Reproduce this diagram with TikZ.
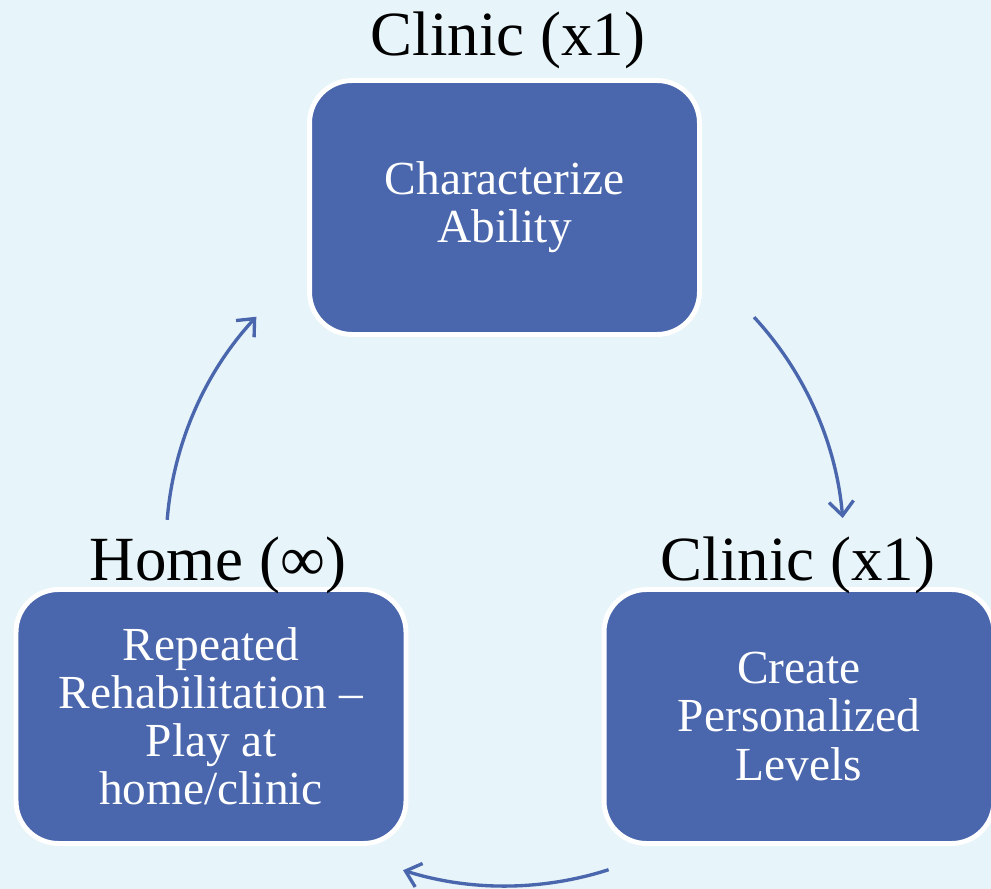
\documentclass[tikz,border=0pt]{standalone}
\usepackage{fontspec}
\setmainfont{Liberation Serif}
\usepackage{xcolor}
\usetikzlibrary{arrows.meta}
\definecolor{boxBlue}{HTML}{4A66AC}
\definecolor{paleSky}{HTML}{E7F4FA}

\begin{document}
\begin{tikzpicture}[x=0.02cm, y=0.02cm,
    stageBox/.style={rectangle, rounded corners=0.85cm, fill=boxBlue, draw=white, line width=2.8pt,
        minimum width=7.8cm, minimum height=5.08cm, inner sep=0pt,
        text=white, align=center, font=\fontsize{27}{27.4}\selectfont},
    tagLabel/.style={anchor=base, font=\fontsize{35.8}{36}\selectfont},
    cycleArrow/.style={draw=boxBlue, line width=1.9pt, -{Straight Barb[length=8pt, width=14pt]}}]
    \useasboundingbox (0,0) rectangle (991,-889);
    \clip (0,0) rectangle (991,-889);
    \fill[paleSky] (0,0) rectangle (991,-889);
    % the three stages
    \node[stageBox] (ability) at (504.5,-207.5) {Characterize\\Ability};
    \node[stageBox] (levels) at (799,-716.5) {Create\\Personalized\\Levels};
    \node[stageBox] (rehab) at (211,-716.5) {Repeated\\Rehabilitation --\\Play at\\home/clinic};
    \node[tagLabel] (abilityTag) at (508,-55) {Clinic (x1)};
    \node[tagLabel] (levelsTag) at (798,-580) {Clinic (x1)};
    \node[tagLabel] (rehabTag) at (218,-580) {Home (∞)};
    % arrows round the cycle
    \coordinate (hub) at (505,-547);
    \coordinate (abilityOut) at ([shift={(42.7:6.78cm)}]hub);
    \coordinate (levelsOut) at ([shift={(-72.2:6.78cm)}]hub);
    \coordinate (rehabOut) at ([shift={(175.4:6.78cm)}]hub);
    \draw[cycleArrow] (abilityOut) arc[start angle=42.7, end angle=4.9, radius=6.78cm];
    \draw[cycleArrow] (levelsOut) arc[start angle=-72.2, end angle=-107.5, radius=6.78cm];
    \draw[cycleArrow] (rehabOut) arc[start angle=175.4, end angle=137.2, radius=6.78cm];
\end{tikzpicture}
\end{document}
